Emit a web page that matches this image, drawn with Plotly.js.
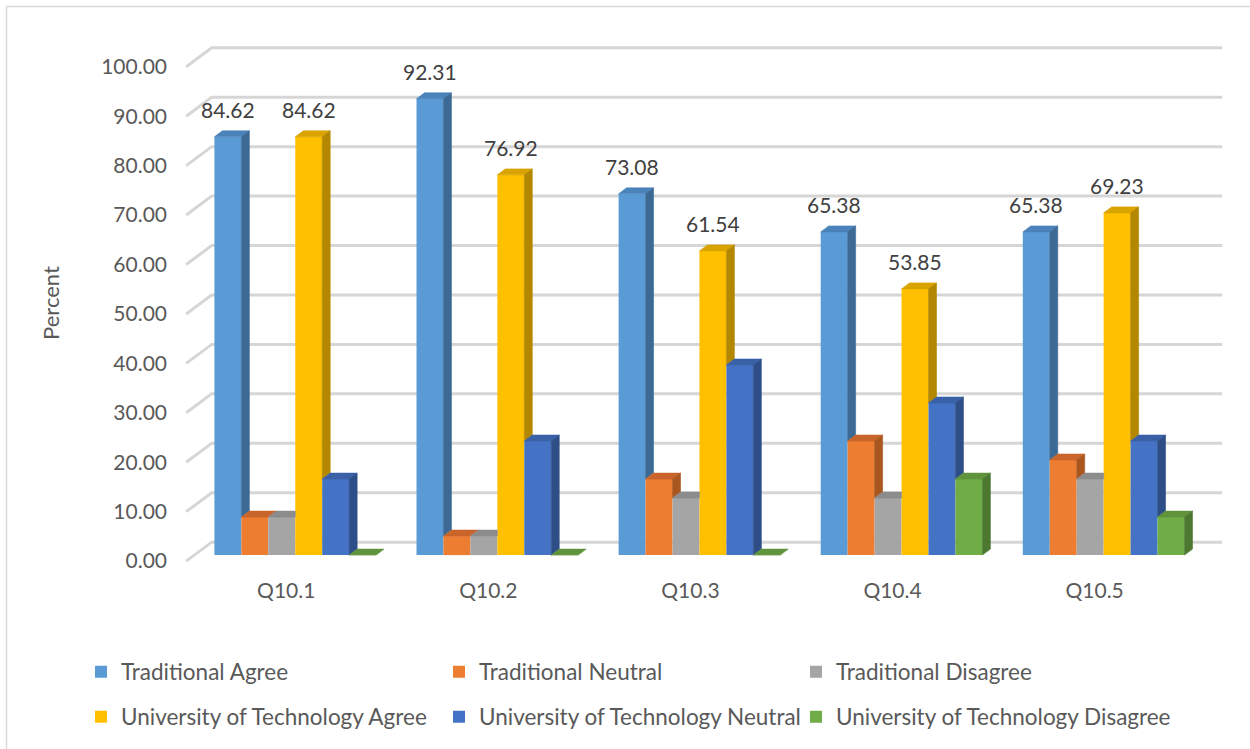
<!DOCTYPE html>
<html>
<head>
<meta charset="utf-8">
<script src="https://cdn.plot.ly/plotly-3.0.1.min.js"></script>
<style>
  html, body { margin: 0; padding: 0; background: #ffffff; }
  #chart { width: 1250px; height: 749px; }
</style>
</head>
<body>
<div id="chart"></div>
<script>
// Survey questions on the category axis
const categories = ['Q10.1', 'Q10.2', 'Q10.3', 'Q10.4', 'Q10.5'];

// Series names, in drawing order within each question
const seriesNames = [
  'Traditional Agree',
  'Traditional Neutral',
  'Traditional Disagree',
  'University of Technology Agree',
  'University of Technology Neutral',
  'University of Technology Disagree'
];

// Percent of respondents per question
const traditionalAgree    = [84.62, 92.31, 73.08, 65.38, 65.38];
const traditionalNeutral  = [7.69, 3.85, 15.38, 23.08, 19.23];
const traditionalDisagree = [7.69, 3.85, 11.54, 11.54, 15.38];
const utAgree             = [84.62, 76.92, 61.54, 53.85, 69.23];
const utNeutral           = [15.38, 23.08, 38.46, 30.77, 23.08];
const utDisagree          = [0, 0, 0, 15.38, 7.69];

// Value axis ticks
const yTicks = [0, 10, 20, 30, 40, 50, 60, 70, 80, 90, 100];

// Series that carry value labels above their columns
const labelledSeries = [0, 3];

const seriesValues = [traditionalAgree, traditionalNeutral, traditionalDisagree,
                      utAgree, utNeutral, utDisagree];

// Front / top / side shades for each column colour
const palette = [
  { front: '#5B9BD5', top: '#4A83BA', side: '#3C6A94' },
  { front: '#ED7D31', top: '#C9652A', side: '#A9561F' },
  { front: '#A5A5A5', top: '#8C8C8C', side: '#767676' },
  { front: '#FFC000', top: '#D9A300', side: '#B38700' },
  { front: '#4472C4', top: '#3A61A8', side: '#2E4E88' },
  { front: '#70AD47', top: '#5F933C', side: '#4C7830' }
];

// ---- geometry of the figure ----
const W = 1250, H = 749;
const M = { l: 174, r: 15, t: 41, b: 183 };
const xRange = [-0.6, 4.65];
const yRange = [-2, 104];
const plotW = W - M.l - M.r, plotH = H - M.t - M.b;
const pxX = plotW / (xRange[1] - xRange[0]);
const pxY = plotH / (yRange[1] - yRange[0]);

// Pseudo-3D depth offsets (pixels, converted to axis units)
const barDX = 8 / pxX, barDY = 6 / pxY;           // column depth
const frontDX = -8 / pxX, frontDY = -6 / pxY;     // front edge of the side wall
const backDX = 17.5 / pxX, backDY = 13 / pxY;     // back wall

const nSeries = seriesValues.length;
const barW = 0.8 / nSeries;
const xIdx = categories.map((_, g) => g);

// Legend grid: three columns, two rows (pixel positions of each entry)
const legendCols = [81, 439, 796];
const legendRows = [672, 717];
const legendIds = seriesNames.map((_, i) => i === 0 ? 'legend' : 'legend' + (i + 1));

const traces = [];

// Front faces: ordinary bar traces
seriesValues.forEach((vals, i) => {
  traces.push({
    type: 'bar',
    name: seriesNames[i],
    x: xIdx,
    y: vals,
    width: xIdx.map(() => barW),
    offset: -0.4 + i * barW,
    marker: { color: palette[i].front, line: { width: 0 } },
    legend: legendIds[i],
    customdata: categories,
    hovertemplate: '%{customdata}<br>' + seriesNames[i] + ': %{y:.2f}<extra></extra>'
  });
});

// Top and side faces, trimmed where the next column in the group hides them
seriesValues.forEach((vals, i) => {
  const topX = [], topY = [], sideX = [], sideY = [];
  vals.forEach((h, g) => {
    const xl = g - 0.4 + i * barW;
    const xr = xl + barW;
    const hn = i < nSeries - 1 ? seriesValues[i + 1][g] : 0;
    let px, py;
    if (hn <= h) {
      px = [xl, xr, xr + barDX, xl + barDX];
      py = [h, h, h + barDY, h + barDY];
    } else if (hn < h + barDY) {
      const cut = xr + (h + barDY - hn) / barDY * barDX;
      px = [xl, xr, xr, cut, xl + barDX];
      py = [h, h, hn, h + barDY, h + barDY];
    } else {
      px = [xl, xr, xr, xl + barDX];
      py = [h, h, h + barDY, h + barDY];
    }
    topX.push(...px, px[0], null);
    topY.push(...py, py[0], null);
    if (h > hn) {
      sideX.push(xr, xr + barDX, xr + barDX, xr, xr, null);
      sideY.push(hn, hn + barDY, h + barDY, h, hn, null);
    }
  });
  [[topX, topY, palette[i].top], [sideX, sideY, palette[i].side]].forEach(([fx, fy, c]) => {
    if (!fx.length) return;
    traces.push({
      type: 'scatter', mode: 'lines', x: fx, y: fy,
      fill: 'toself', fillcolor: c,
      line: { width: 0.6, color: c },
      hoverinfo: 'skip', showlegend: false
    });
  });
});

// Value labels above the labelled columns
const annotations = [];
labelledSeries.forEach(i => {
  seriesValues[i].forEach((v, g) => {
    annotations.push({
      x: g - 0.4 + i * barW + barW / 2,
      y: v,
      xref: 'x', yref: 'y',
      text: v.toFixed(2),
      showarrow: false,
      yanchor: 'middle',
      yshift: 27,
      font: { family: 'Lato, sans-serif', size: 21, color: '#404040' }
    });
  });
});

// Back-wall gridlines with their slanted side-wall segment
const shapes = yTicks.map(v => ({
  type: 'path',
  xref: 'x', yref: 'y',
  layer: 'below',
  path: 'M ' + (-0.5 + frontDX) + ',' + (v + frontDY) +
        ' L ' + (-0.5 + backDX) + ',' + (v + backDY) +
        ' L ' + (categories.length - 0.5 + backDX) + ',' + (v + backDY),
  line: { color: '#d6d6d6', width: 3 }
}));

// Chart-area border (left and top edges)
const toPaperX = px => (px - M.l) / plotW;
const toPaperY = py => 1 - (py - M.t) / plotH;
shapes.push(
  { type: 'line', xref: 'paper', yref: 'paper',
    x0: toPaperX(6.5), x1: toPaperX(6.5), y0: toPaperY(6.5), y1: toPaperY(H + 5),
    line: { color: '#d9d9d9', width: 1.5 } },
  { type: 'line', xref: 'paper', yref: 'paper',
    x0: toPaperX(6.5), x1: toPaperX(W + 5), y0: toPaperY(6.5), y1: toPaperY(6.5),
    line: { color: '#d9d9d9', width: 1.5 } }
);

const textFont = { family: 'Lato, sans-serif', size: 21, color: '#595959' };
const legendFont = { family: 'Lato, sans-serif', size: 22.5, color: '#595959' };

const layout = {
  width: W, height: H,
  margin: M,
  paper_bgcolor: '#ffffff',
  plot_bgcolor: '#ffffff',
  barmode: 'overlay',
  showlegend: true,
  font: textFont,
  xaxis: {
    range: xRange,
    tickmode: 'array',
    tickvals: xIdx,
    ticktext: categories,
    showgrid: false, zeroline: false, showline: false,
    ticks: '',
    ticklabelstandoff: 11,
    ticklabelshift: -9,
    tickfont: textFont,
    fixedrange: true
  },
  yaxis: {
    range: yRange,
    tickmode: 'array',
    tickvals: yTicks,
    ticktext: yTicks.map(v => v.toFixed(2)),
    showgrid: false, zeroline: false, showline: false,
    ticks: '',
    ticklabelstandoff: 6,
    ticklabelshift: 6,
    tickfont: textFont,
    title: { text: 'Percent', font: { family: 'Lato, sans-serif', size: 22, color: '#595959' }, standoff: 35 },
    fixedrange: true
  },
  shapes: shapes,
  annotations: annotations
};

// One single-entry legend per series, laid out on the grid
legendIds.forEach((id, i) => {
  layout[id] = {
    orientation: 'h',
    xanchor: 'left', yanchor: 'middle',
    x: toPaperX(legendCols[i % 3]),
    y: toPaperY(legendRows[Math.floor(i / 3)]),
    font: legendFont,
    bgcolor: 'rgba(0,0,0,0)'
  };
});

Plotly.newPlot('chart', traces, layout, { displayModeBar: false, staticPlot: false });
</script>
</body>
</html>
